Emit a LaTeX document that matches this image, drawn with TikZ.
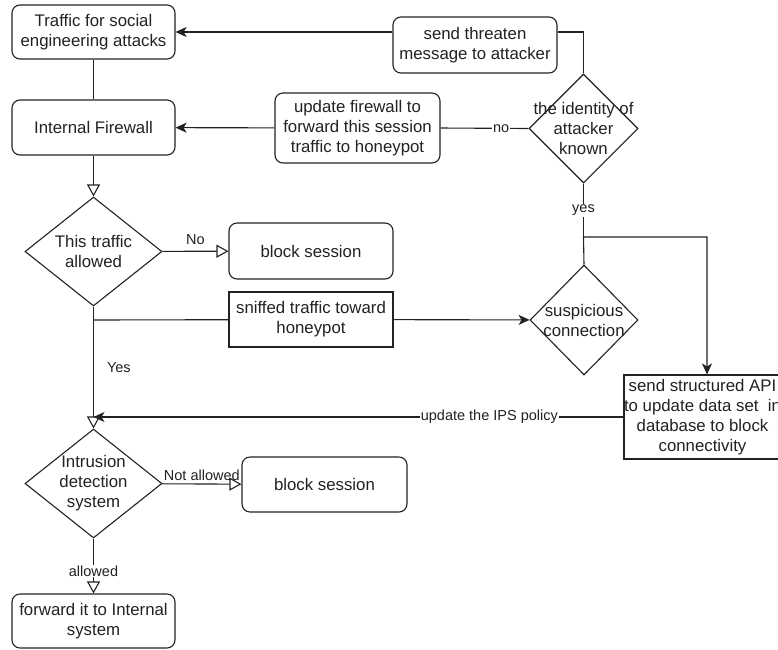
\documentclass[tikz,border=0pt]{standalone}
\usepackage{fontspec}
\setmainfont{Liberation Sans}
\usetikzlibrary{shapes.geometric,arrows.meta}
\definecolor{ink}{RGB}{34,34,34}
\newcommand{\nodefont}{\fontsize{16.8}{20}\selectfont}
\newcommand{\lblfont}{\fontsize{14.5}{17}\selectfont}
\tikzset{
  rbox/.style={draw=ink, line width=1.1pt, rounded corners=8pt, align=center, font=\nodefont, inner sep=0pt, text=ink},
  sbox/.style={draw=ink, line width=1.1pt, align=center, font=\nodefont, inner sep=0pt, text=ink},
  dia/.style={draw=ink, line width=1.1pt, diamond, inner sep=0pt},
  dtext/.style={align=center, font=\nodefont, inner sep=0pt, text=ink},
  conn/.style={draw=ink, line width=1.1pt},
  openarr/.style={conn, -{Triangle[open, length=12pt, width=13pt, line width=1.1pt]}},
  fillarr/.style={conn, -{Stealth[length=11pt, width=10pt, inset=3pt]}},
  lbl/.style={font=\lblfont, text=ink, inner sep=1pt},
}
\begin{document}
\begin{tikzpicture}[x=1pt,y=-1pt]
\useasboundingbox (0,0) rectangle (778,649);
\fill[white] (0,0) rectangle (778,649);
\clip (0,0) rectangle (778,649);

% boxes
\node[rbox, minimum width=163pt, minimum height=54pt] (traffic) at (93.5,32) {Traffic for social\\engineering attacks};
\node[rbox, minimum width=163pt, minimum height=55pt] (firewall) at (93.5,127.5) {Internal Firewall};
\node[rbox, minimum width=164pt, minimum height=56pt] (threaten) at (475,45) {send threaten\\message to attacker};
\node[rbox, minimum width=165pt, minimum height=70pt] (update) at (357.5,128) {update firewall to\\forward this session\\traffic to honeypot};
\node[rbox, minimum width=164pt, minimum height=56pt] (block1) at (311,251) {block session};
\node[sbox, minimum width=164pt, minimum height=55pt] (sniffed) at (311,319.5) {sniffed traffic toward\\honeypot};
\node[sbox, minimum width=157pt, minimum height=84pt] (api) at (702.5,417) {send structured API\\to update data set\ \ in\\database to block\\connectivity};
\node[rbox, minimum width=165pt, minimum height=55pt] (block2) at (324.5,484.5) {block session};
\node[rbox, minimum width=163pt, minimum height=54pt] (forward) at (93.5,621) {forward it to Internal\\system};

% diamonds
\node[dia, minimum width=109pt, minimum height=109pt] (identity) at (583.5,128.5) {};
\node[dtext] (identityt) at (583.5,128.5) {the identity of\\attacker\\known};
\node[dia, minimum width=137pt, minimum height=109pt] (allowed) at (93.5,251.5) {};
\node[dtext] (allowedt) at (93.5,251.5) {This traffic\\allowed};
\node[dia, minimum width=108pt, minimum height=110pt] (susp) at (584,320) {};
\node[dtext] (suspt) at (584,320) {suspicious\\connection};
\node[dia, minimum width=137pt, minimum height=109pt] (ids) at (93.5,483.5) {};
\node[dtext] (idst) at (93.5,483.5) {Intrusion\\detection\\system};

% junction points
\coordinate (j1) at (93.5,320);
\coordinate (jy) at (583.5,237);
\coordinate (j2) at (93.5,417);

% connectors
\draw[conn] (traffic) -- (firewall);
\draw[openarr] (firewall) -- (allowed);
\draw[openarr] (allowed) -- node[lbl, above=5pt, pos=0.5] (lno) {No} (block1);
\draw[openarr] (allowed.south) -- node[lbl, right=12pt, pos=0.5] (lyes) {Yes} (ids.north);
\draw[conn] (j1) -- (sniffed);
\draw[fillarr] (sniffed) -- (susp);
\draw[conn] (identity.north) |- ([yshift=13pt]threaten.east);
\draw[fillarr] ([yshift=13pt]threaten.west) -- (traffic.east);
\draw[conn] (identity.west) -- node[lbl, fill=white, pos=0.31] (lno2) {no} (update.east);
\draw[fillarr] (update) -- (firewall);
\draw[conn] (identity.south) -- node[lbl, fill=white, pos=0.5] (lyes2) {yes} (jy);
\draw[fillarr] (susp.north) -- (jy) -| ([xshift=4.5pt]api.north);
\draw[fillarr] (api.west) -- node[lbl, fill=white, pos=0.253] (lips) {update the IPS policy} (j2);
\draw[openarr] (ids) -- node[lbl, above=2pt, pos=0.5] (lnot) {Not allowed} (block2);
\draw[openarr] (ids.south) -- node[lbl, fill=white, pos=0.59] (lallow) {allowed} (forward.north);
\end{tikzpicture}
\end{document}
